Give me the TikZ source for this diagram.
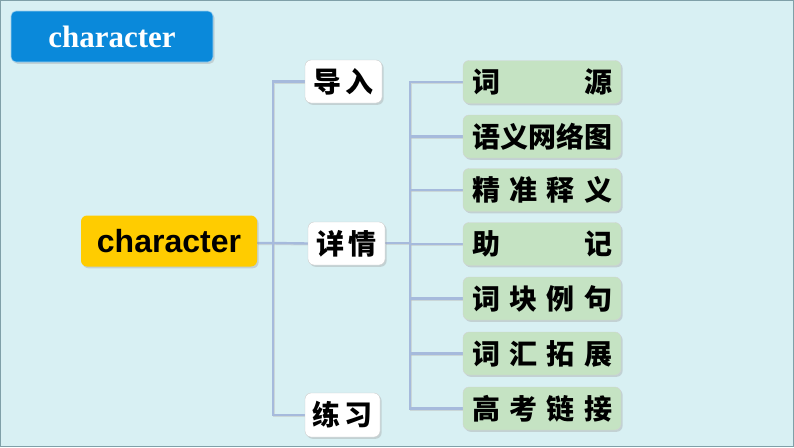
\documentclass[tikz,border=0pt]{standalone}
\usepackage{fontspec}
\setmainfont{Liberation Serif}
\newfontfamily\sansf{Liberation Sans}
\newfontfamily\cjk{Noto Sans CJK SC}
\usetikzlibrary{shadows}
\pgfdeclarelayer{bglayer}
\pgfsetlayers{bglayer,main}
\definecolor{bgc}{HTML}{D8F0F3}
\definecolor{framec}{HTML}{7FA0A8}
\definecolor{greenc}{HTML}{C5E3C3}
\definecolor{yellowc}{HTML}{FFCC00}
\definecolor{bluec}{HTML}{0A89DA}
\definecolor{linec}{HTML}{A6BADC}
\tikzset{
  boxshadow/.style={drop shadow={opacity=0.35,shadow xshift=1.6pt,shadow yshift=-1.8pt,fill=gray!80}},
  titlebox/.style={rounded corners=5pt,fill=bluec,draw=white!60!bluec,line width=0.6pt,minimum width=202pt,minimum height=51pt,text=white,font=\bfseries\fontsize{31}{31}\selectfont,inner sep=0pt,boxshadow},
  rootbox/.style={rounded corners=6pt,fill=yellowc,minimum width=176pt,minimum height=51pt,font=\sansf\bfseries\fontsize{32}{32}\selectfont,inner sep=0pt,boxshadow},
  midbox/.style={rounded corners=6pt,fill=white,draw=gray!40,line width=0.4pt,minimum width=77pt,minimum height=43pt,font=\cjk\bfseries\fontsize{28}{28}\selectfont,inner sep=0pt,boxshadow},
  leafbox/.style={rounded corners=6pt,fill=greenc,draw=gray!35,line width=0.4pt,minimum width=158pt,minimum height=43pt,font=\cjk\bfseries\fontsize{28}{28}\selectfont,inner sep=0pt,boxshadow},
  conn/.style={draw=linec,line width=2.4pt},
  connshadow/.style={draw=gray!55,line width=2.4pt,opacity=0.45,transform canvas={xshift=0.8pt,yshift=-0.8pt}}
}
\newcommand{\spreadtext}[1]{\hbox to 140pt{#1}}
\begin{document}
\begin{tikzpicture}[x=1pt,y=-1pt]
\begin{pgfonlayer}{bglayer}
\fill[bgc] (0,0) rectangle (794,447);
\draw[framec,line width=1.4pt] (0.7,0.7) rectangle (793.3,446.3);
\end{pgfonlayer}
\useasboundingbox (0,0) rectangle (794,447);

\node[titlebox] (title) at (112,36.5) {character};
\node[rootbox] (root) at (169,241) {character};

\node[midbox] (daoru) at (343.5,81.5) {导\hspace{4pt}入};
\node[midbox] (xiangqing) at (346.5,243.5) {详\hspace{4pt}情};
\node[midbox,minimum width=75pt,minimum height=44pt] (lianxi) at (342.5,415) {练\hspace{4pt}习};

\node[leafbox] (l1) at (542,82) {\spreadtext{词\hfill 源}};
\node[leafbox] (l2) at (542,136.5) {\spreadtext{语义网络图}};
\node[leafbox] (l3) at (542,190) {\spreadtext{精\hfill 准\hfill 释\hfill 义}};
\node[leafbox] (l4) at (542,244) {\spreadtext{助\hfill 记}};
\node[leafbox] (l5) at (542,298.5) {\spreadtext{词\hfill 块\hfill 例\hfill 句}};
\node[leafbox] (l6) at (542,353.5) {\spreadtext{词\hfill 汇\hfill 拓\hfill 展}};
\node[leafbox] (l7) at (542,408.5) {\spreadtext{高\hfill 考\hfill 链\hfill 接}};

\coordinate (t1) at (273,243);
\coordinate (t2) at (410,243);

\begin{pgfonlayer}{bglayer}
\foreach \s in {connshadow,conn}{
  \draw[\s] (root.east |- t1) -- (t1) -- (xiangqing.west);
  \draw[\s] (daoru.west) -| (t1) |- (lianxi.west);
  \draw[\s] (xiangqing.east |- t2) -- (t2);
  \draw[\s] (l1.west) -| (t2) |- (l7.west);
  \draw[\s] (t2 |- l2.west) -- (l2.west);
  \draw[\s] (t2 |- l3.west) -- (l3.west);
  \draw[\s] (t2 |- l4.west) -- (l4.west);
  \draw[\s] (t2 |- l5.west) -- (l5.west);
  \draw[\s] (t2 |- l6.west) -- (l6.west);
}
\end{pgfonlayer}
\end{tikzpicture}
\end{document}
